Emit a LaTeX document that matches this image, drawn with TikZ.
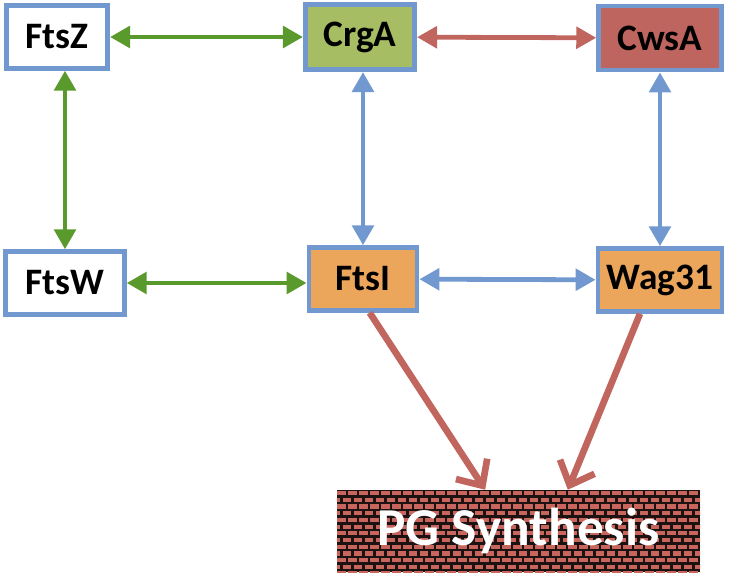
\documentclass[tikz,border=0pt]{standalone}
\usepackage{fontspec}
\setmainfont{Carlito}
\usetikzlibrary{arrows.meta, positioning, backgrounds}
\definecolor{boxBlue}{HTML}{7199CF}
\definecolor{linkGreen}{HTML}{5A9A2D}
\definecolor{linkRed}{HTML}{C0665F}
\definecolor{crgGreen}{HTML}{A7BD63}
\definecolor{cwsRed}{HTML}{BF6560}
\definecolor{ftsOrange}{HTML}{EBA65C}
\definecolor{brickRed}{HTML}{C8665E}
\definecolor{mortar}{HTML}{1C1212}

\begin{document}
\begin{tikzpicture}[x=0.75pt, y=-0.75pt,
    prot/.style={rectangle, draw=boxBlue, line width=3.6pt, fill=white,
                 font=\fontsize{28}{30}\selectfont\bfseries, minimum height=47pt,
                 inner sep=2pt},
    link/.style={line width=3.6pt, {Triangle[length=15pt,width=16pt]}-{Triangle[length=15pt,width=16pt]}},
    feed/.style={line width=5pt, linkRed, -{Straight Barb[length=15pt,width=28pt]}},
  ]
    \useasboundingbox (0,0) rectangle (750,574);

    % Proteine
    \node[prot, minimum width=76pt] (FtsZ) at (57, 37) {FtsZ};
    \node[prot, minimum width=82pt, fill=crgGreen, minimum height=49pt] (CrgA) at (360, 37) {CrgA};
    \node[prot, minimum width=92pt, fill=cwsRed, minimum height=48pt] (CwsA) at (660, 38) {CwsA};
    \node[prot, minimum width=89pt] (FtsW) at (65, 283) {FtsW};
    \node[prot, minimum width=81pt, fill=ftsOrange] (FtsI) at (363, 279) {FtsI};
    \node[prot, minimum width=93pt, fill=ftsOrange] (Wag31) at (660, 280) {Wag31};

    % PG-Synthese
    \node[rectangle, minimum width=272pt, minimum height=61.5pt, text=white,
          font=\fontsize{40}{42}\selectfont\bfseries] (PG) at (518.5, 531) {PG Synthesis};
    \begin{scope}[on background layer]
      \clip (PG.south west) rectangle (PG.north east);
      \fill[mortar] (PG.south west) rectangle (PG.north east);
      \foreach \r [evaluate=\r as \off using {mod(\r,2)*5.5}] in {0,...,12}
        \foreach \c in {-1,...,33}
          \fill[brickRed] (337+\off+\c*11, 491+\r*6.7) rectangle ++(8.5, 4.2);
    \end{scope}

    % Wechselwirkungen
    \draw[link, linkGreen] (FtsZ) -- (CrgA);
    \draw[link, linkGreen] (FtsZ.south -| FtsW.north) -- (FtsW.north);
    \draw[link, linkGreen] (FtsW.east) -- (FtsW.east -| FtsI.west);
    \draw[link, linkRed] (CrgA) -- (CwsA);
    \draw[link, boxBlue] (CrgA.south -| FtsI.north) -- (FtsI.north);
    \draw[link, boxBlue] (CwsA) -- (Wag31);
    \draw[link, boxBlue] (FtsI) -- (Wag31);

    % Synthese
    \draw[feed] ([xshift=5pt]FtsI.south) -- ([xshift=-25pt]PG.north);
    \draw[feed] ([xshift=-15pt]Wag31.south) -- ([xshift=37pt]PG.north);
  \end{tikzpicture}
\end{document}
